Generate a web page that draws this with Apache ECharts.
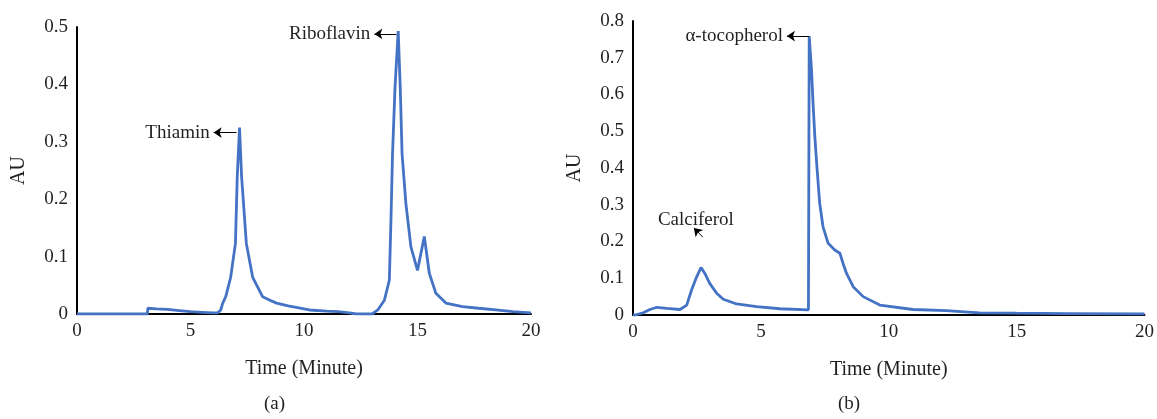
<!DOCTYPE html>
<html>
<head>
<meta charset="utf-8">
<script src="https://cdn.jsdelivr.net/npm/echarts@6/dist/echarts.min.js"></script>
<style>
  html, body { margin: 0; padding: 0; background: #fff; }
  #chart { width: 1157px; height: 419px; }
</style>
</head>
<body>
<div id="chart"></div>
<script>
// (a) water-soluble vitamins: time (min), absorbance (AU)
var timeA = [0, 3.1, 3.12, 3.5, 4, 4.5, 5, 5.5, 6, 6.2, 6.33, 6.42, 6.55, 6.77, 6.98, 7.06, 7.16,
  7.25, 7.46, 7.74, 8.18, 8.5, 8.79, 9.3, 10.24, 11, 11.5, 12, 12.3, 13.0, 13.25, 13.54, 13.76,
  13.83, 13.9, 14.01, 14.15, 14.24, 14.32, 14.49, 14.71, 15.0, 15.3, 15.52, 15.81, 16.25, 16.98,
  17.7, 18.45, 19.2, 20];
var auA = [0, 0, 0.01, 0.009, 0.008, 0.006, 0.004, 0.003, 0.002, 0.002, 0.007, 0.019, 0.03, 0.064, 0.123, 0.24, 0.325,
  0.24, 0.123, 0.064, 0.03, 0.024, 0.019, 0.014, 0.007, 0.005, 0.004, 0.002, 0, 0, 0.007, 0.024, 0.059,
  0.163, 0.279, 0.395, 0.493, 0.395, 0.279, 0.192, 0.117, 0.076, 0.135, 0.071, 0.036, 0.019, 0.013,
  0.01, 0.007, 0.004, 0.002];

// (b) fat-soluble vitamins
var timeB = [0, 0.08, 0.4, 0.66, 0.93, 1.32, 1.84, 2.1, 2.29, 2.49, 2.66, 2.81, 3.0, 3.27, 3.53, 4.05,
  4.83, 5.74, 6.86, 6.89, 6.98, 7.04, 7.11, 7.2, 7.3, 7.43, 7.63, 7.89, 8.09, 8.21, 8.35, 8.61, 9.0,
  9.65, 10.95, 12.25, 13.55, 15, 17, 20];
var auB = [0, 0, 0.006, 0.015, 0.021, 0.018, 0.015, 0.027, 0.068, 0.104, 0.129, 0.113, 0.086, 0.059, 0.043, 0.03,
  0.023, 0.017, 0.014, 0.759, 0.667, 0.576, 0.485, 0.395, 0.304, 0.24, 0.195, 0.177, 0.168, 0.141, 0.113, 0.077, 0.05,
  0.027, 0.015, 0.012, 0.006, 0.005, 0.004, 0.003];

var xTicks = [0, 5, 10, 15, 20];

function pairs(xs, ys) {
  var out = [];
  for (var i = 0; i < xs.length; i++) out.push([xs[i], ys[i]]);
  return out;
}

var FONT = 'Liberation Serif';
var INK = '#231f20';
var BLUE = '#4472c4';

function xAxisFor(idx) {
  return {
    gridIndex: idx, type: 'value', min: 0, max: 20, interval: 5,
    name: 'Time (Minute)', nameLocation: 'middle', nameGap: 45,
    nameTextStyle: { fontFamily: FONT, fontSize: 20, color: INK },
    axisLine: { lineStyle: { color: '#000', width: 2 } },
    axisTick: { show: false },
    splitLine: { show: false },
    axisLabel: { fontFamily: FONT, fontSize: 19, color: INK, margin: 8,
      formatter: function (v) { return xTicks.indexOf(v) >= 0 ? String(v) : ''; } }
  };
}
function yAxisFor(idx, max) {
  return {
    gridIndex: idx, type: 'value', min: 0, max: max, interval: 0.1,
    name: 'AU', nameLocation: 'middle', nameGap: 48, nameRotate: 90,
    nameTextStyle: { fontFamily: FONT, fontSize: 20, color: INK },
    axisLine: { show: true, lineStyle: { color: '#000', width: 2 } },
    axisTick: { show: false },
    splitLine: { show: false },
    axisLabel: { fontFamily: FONT, fontSize: 19, color: INK, margin: 9,
      formatter: function (v) { return v === 0 ? '0' : v.toFixed(1); } }
  };
}

function arrow(from, to) {
  return [{ coord: from }, { coord: to }];
}
function tag(text, coord, pos) {
  return { coord: coord, symbolSize: 0,
    label: { show: true, formatter: text, position: pos, distance: 3,
      fontFamily: FONT, fontSize: 19, color: INK } };
}
var arrowStyle = {
  silent: true, symbol: ['none', 'arrow'], symbolSize: 8,
  lineStyle: { color: '#000', width: 1, type: 'solid' },
  label: { show: false }, animation: false
};

var chart = echarts.init(document.getElementById('chart'));
chart.setOption({
  animation: false,
  grid: [
    { left: 77, right: 626, top: 27, bottom: 105 },
    { left: 633, right: 12, top: 21, bottom: 104 }
  ],
  xAxis: [xAxisFor(0), xAxisFor(1)],
  yAxis: [yAxisFor(0, 0.5), yAxisFor(1, 0.8)],
  graphic: [
    { type: 'text', left: 264, top: 395, style: { text: '(a)', font: '19px ' + FONT, fill: INK } },
    { type: 'text', left: 838, top: 395, style: { text: '(b)', font: '19px ' + FONT, fill: INK } }
  ],
  series: [
    {
      type: 'line', xAxisIndex: 0, yAxisIndex: 0, data: pairs(timeA, auA),
      symbol: 'none', smooth: false,
      lineStyle: { color: BLUE, width: 2.8 },
      markLine: Object.assign({ data: [
        arrow([7.03, 0.316], [6.02, 0.316]),
        arrow([14.07, 0.488], [13.1, 0.488])
      ] }, arrowStyle),
      markPoint: { silent: true, data: [
        tag('Thiamin', [5.98, 0.316], 'left'),
        tag('Riboflavin', [13.05, 0.488], 'left')
      ] }
    },
    {
      type: 'line', xAxisIndex: 1, yAxisIndex: 1, data: pairs(timeB, auB),
      symbol: 'none', smooth: false,
      lineStyle: { color: BLUE, width: 2.8 },
      markLine: Object.assign({ data: [
        arrow([6.88, 0.759], [6.02, 0.759]),
        arrow([2.73, 0.212], [2.38, 0.237])
      ] }, arrowStyle),
      markPoint: { silent: true, data: [
        tag('α-tocopherol', [5.98, 0.759], 'left'),
        tag('Calciferol', [2.46, 0.258], 'inside')
      ] }
    }
  ]
});
</script>
</body>
</html>
